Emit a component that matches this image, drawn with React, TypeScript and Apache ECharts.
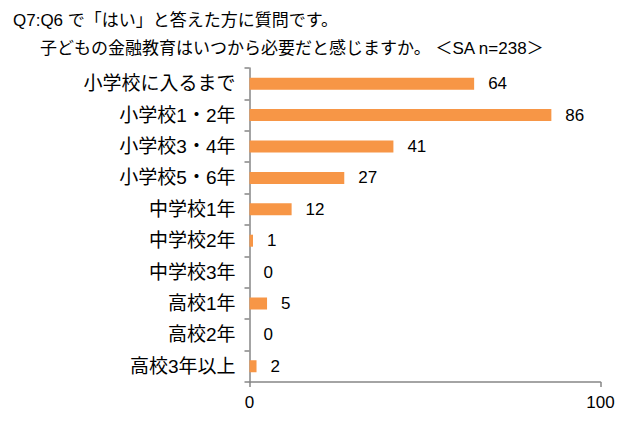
import React, { useEffect, useRef } from "react";
import * as echarts from "echarts";

const categories = [
  "小学校に入るまで",
  "小学校1・2年",
  "小学校3・4年",
  "小学校5・6年",
  "中学校1年",
  "中学校2年",
  "中学校3年",
  "高校1年",
  "高校2年",
  "高校3年以上",
];
const values = [64, 86, 41, 27, 12, 1, 0, 5, 0, 2];
const titleLine1 = "Q7:Q6 で「はい」と答えた方に質問です。";
const titleLine2 = "子どもの金融教育はいつから必要だと感じますか。 ＜SA n=238＞";

const FONT = "'Liberation Sans', 'Noto Sans CJK JP', sans-serif";

export default function App() {
  const ref = useRef<HTMLDivElement>(null);
  useEffect(() => {
    document.body.style.margin = "0";
    const chart = echarts.init(ref.current!, null, { renderer: "svg" });
    chart.setOption({
      animation: false,
      backgroundColor: "#ffffff",
      textStyle: { fontFamily: FONT },
      title: [
        {
          text: titleLine1,
          left: 8,
          top: 7,
          textStyle: { fontSize: 17, fontWeight: "normal", color: "#000", fontFamily: FONT },
        },
        {
          text: titleLine2,
          left: 35,
          top: 35,
          textStyle: { fontSize: 17, fontWeight: "normal", color: "#000", fontFamily: FONT },
        },
      ],
      grid: { left: 249.5, right: 39.5, top: 68, bottom: 44, containLabel: false },
      xAxis: {
        type: "value",
        min: 0,
        max: 100,
        interval: 100,
        splitLine: { show: false },
        axisLine: { show: true, lineStyle: { color: "#868686", width: 1.5 } },
        axisTick: { show: true, length: 5, lineStyle: { color: "#868686", width: 1.5 } },
        axisLabel: { fontSize: 17, color: "#000", margin: 12, fontFamily: FONT },
      },
      yAxis: {
        type: "category",
        data: categories,
        inverse: true,
        axisLine: { show: true, lineStyle: { color: "#868686", width: 1.5 } },
        axisTick: { show: true, length: 5, lineStyle: { color: "#868686", width: 1.5 } },
        axisLabel: { fontSize: 19, color: "#000", margin: 14, fontFamily: FONT },
      },
      series: [
        {
          type: "bar",
          data: values,
          barWidth: 12,
          itemStyle: { color: "#F79646" },
          label: {
            show: true,
            position: "right",
            distance: 14,
            fontSize: 17,
            color: "#000",
            fontFamily: FONT,
          },
        },
      ],
    });
    return () => chart.dispose();
  }, []);
  return <div ref={ref} style={{ width: 640, height: 426 }} />;
}
